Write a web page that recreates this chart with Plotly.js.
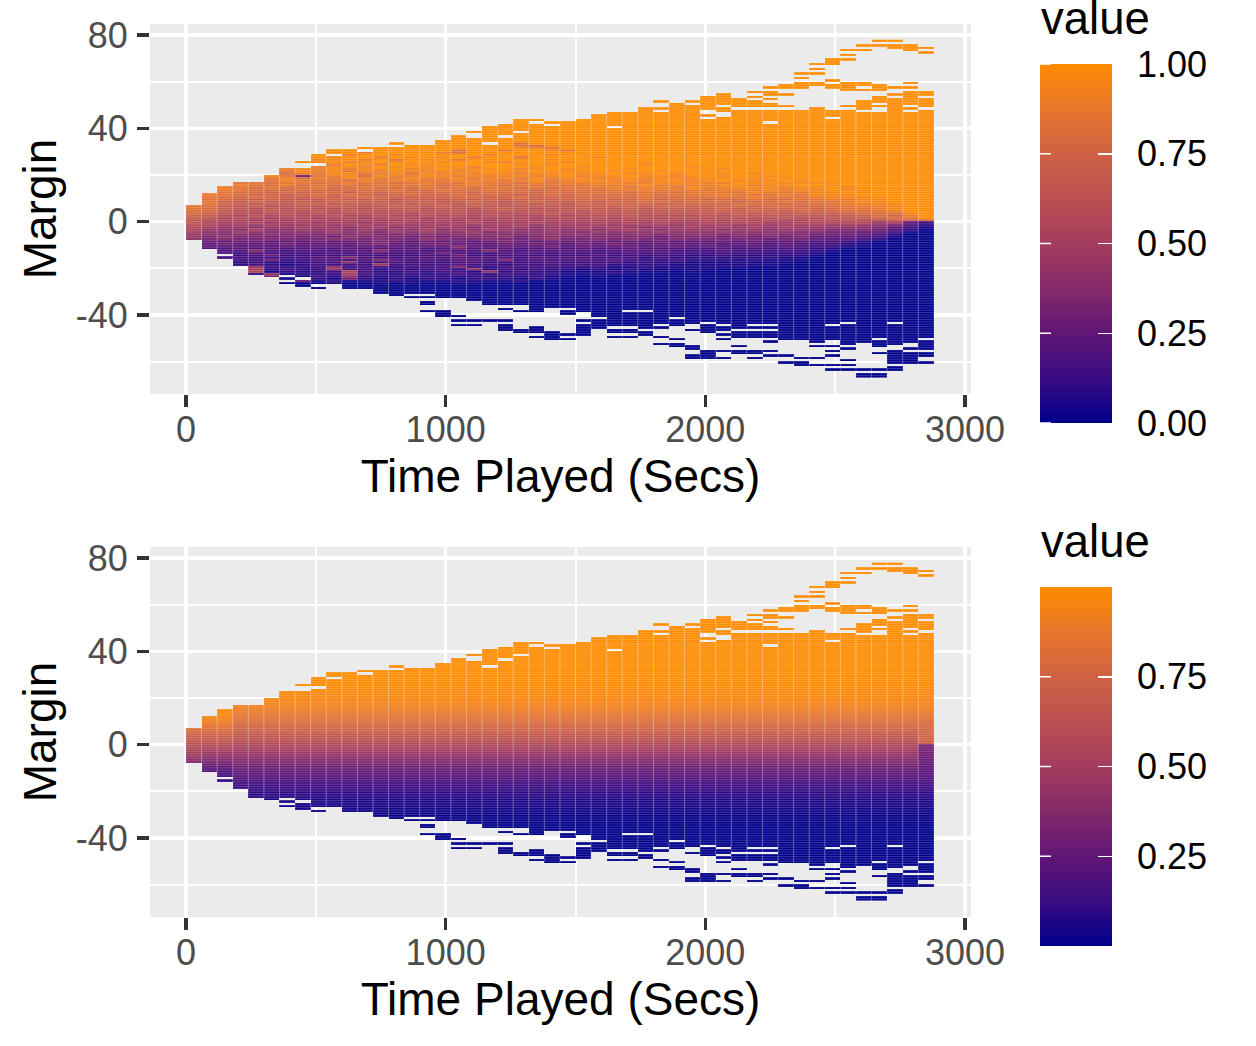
<!DOCTYPE html>
<html><head><meta charset="utf-8">
<script src="https://cdn.plot.ly/plotly-3.0.1.min.js"></script>
<style>html,body{margin:0;padding:0;background:#fff}#c{width:1256px;height:1046px}</style>
</head><body><div id="c"></div>
<script>
// column width in seconds, number of columns and rows of margin
const colStarts = Array.from({length:48},(_,i)=>i*60);
const marginLow = -67, marginHigh = 77;

// tiles present in each column, as [highest, lowest] margin rows (row k spans k..k+1)
const runs = [
[[6,-8]],[[11,-12]],[[14,-14],[-16,-16]],[[16,-19]],[[16,-23]],[[19,-24]],
[[22,-23],[-25,-25],[-27,-27]],[[25,25],[22,-24],[-26,-28]],[[28,25],[23,-27],[-29,-29]],
[[30,29],[27,-27]],[[30,-29]],[[31,31],[29,-29]],[[31,-31]],[[33,33],[31,-32]],
[[32,-31],[-33,-33]],[[32,-31],[-33,-33],[-35,-36],[-39,-39]],[[34,-33],[-39,-41]],
[[36,-33],[-41,-41],[-43,-43],[-45,-45]],[[38,38],[35,-34],[-43,-43],[-45,-45]],
[[40,34],[32,-36],[-43,-43]],[[41,37],[35,-36],[-38,-38],[-43,-43],[-45,-47]],
[[43,39],[37,-36],[-39,-39],[-47,-48]],[[43,43],[41,-39],[-46,-48],[-50,-50]],
[[42,42],[40,-37],[-48,-51]],[[42,-37],[-39,-40],[-49,-49],[-51,-51]],
[[43,-39],[-43,-43],[-45,-49]],[[45,-41],[-43,-46]],[[46,41],[39,-45],[-47,-48],[-50,-50]],
[[46,-38],[-40,-45],[-47,-48],[-50,-50]],[[48,-38],[-40,-46],[-48,-49]],
[[51,51],[48,48],[46,-44],[-46,-46],[-50,-50],[-53,-53]],[[50,-41],[-43,-45],[-51,-51],[-53,-54]],
[[51,51],[49,-44],[-47,-47],[-54,-55],[-58,-59]],[[53,48],[45,45],[43,-43],[-45,-48],[-56,-59]],
[[54,50],[48,47],[44,-44],[-46,-47],[-49,-49],[-51,-51],[-56,-56],[-59,-59]],
[[52,49],[47,-46],[-48,-50],[-54,-54],[-56,-57]],
[[55,55],[53,53],[51,49],[47,-44],[-46,-46],[-48,-50],[-56,-57],[-59,-59]],
[[57,57],[55,54],[52,52],[50,49],[47,43],[41,-44],[-46,-46],[-48,-50],[-52,-52],[-56,-56],[-58,-58]],
[[58,57],[54,54],[49,49],[47,-51],[-58,-58],[-61,-61]],
[[63,63],[61,61],[59,57],[47,-51],[-59,-59],[-61,-62]],
[[67,67],[65,65],[63,63],[59,58],[48,-52],[-54,-54],[-59,-59],[-62,-62]],
[[69,67],[60,60],[58,57],[47,45],[43,-44],[-46,-51],[-54,-54],[-56,-56],[-58,-58],[-62,-62],[-64,-64]],
[[73,73],[71,71],[69,69],[59,56],[49,49],[47,-43],[-45,-53],[-55,-55],[-60,-60],[-62,-62],[-64,-64]],
[[75,75],[73,73],[59,58],[56,56],[51,48],[46,-52],[-64,-64],[-66,-67]],
[[77,77],[75,75],[58,56],[53,51],[49,49],[46,-50],[-52,-54],[-57,-57],[-64,-64],[-66,-67]],
[[77,77],[75,74],[57,57],[54,54],[52,-43],[-45,-53],[-56,-61],[-63,-64]],
[[75,73],[59,59],[57,57],[55,50],[48,48],[46,-52],[-55,-55],[-57,-61]],
[[74,74],[72,72],[55,54],[52,49],[47,-50],[-52,-55],[-57,-58],[-61,-61]]
];

// Top panel: value read per tile, one string per margin row from rowsATop downward.
// Characters 0-9 a-k stand for 0.00, 0.05 ... 1.00. Rows above are 1.00, rows below are 0.00.
const valueChars = "0123456789abcdefghijk";
const rowsATop = 34;
const rowsA = [
"kkkkkkkk kkkkkkkk kkkkkkkk kkkkkkkk kkkkkkkk kkkkkkkk",
"kkkkkkkk kkkkkkkk kkkkkhkk kkkkkkkk kkkkkkkk kkkkkkkk",
"kkkkkkkk kkkkkkkk kkkkkhgj kkkkkkkk kkkkkkkk kkkkkkkk",
"kkkkkkkk kkkkkkkk kkkkkjih kkkkkkkk kkkkkkkk kkkkkkkk",
"kkkkkkkk kkkjkkkk khkkikkj ikkkkkkk kkkkkkkk kkkkkkkk",
"kkkkkkkk kkkikkkk ihkkkkkk kkkkkkkk kkkkkkkk kkkkkkkk",
"kkkkkkkk kkikkjkk kkkikkkj kkkkkkkk kkkkkkkk kkkkkkkk",
"kkkkkkkk kjkkikjk jkikkhkk kkjkkkkk kkkkkkkk kkkkkkkk",
"kkkkkkkk jjkikhkj khkkkkkj kkkkkkkk kkkkkkkk kkkkkkkk",
"kkkkkkkk jkijkjkk jkkjikkk jkkkkkkk kkkkkkkk kkkkkkkk",
"kkkkkkkk jikjikjj kkkkkjkj kkkkkjkk kkkkkkkk kkkkkkkk",
"kkkkkkjj ijjikjkj jjikkkjk kjkkkkkk jkkkkkkk kkkkkkkk",
"kkkkkjij ijijjkij kjjjkijk jkkkjkkk kkjkkkkk kkkkkkkk",
"kkkkjjhj ijhjijji jijkjjkj jjkjkkjk kjkkkkkk kkkkkkkk",
"kkkjjigi hjjhijhj ijijjijj kjjkjjkj kkjkjkkk kkkkkkkk",
"kkkjijh6 hijgjiij jhjiijij jijjkjji jkjkkjkk kkkkkkkk",
"kkkjihig ihjiihji ijhijhji jjijjijj jjjkjkjk kkkkkkkk",
"kkjiihih hhgihiih hiiihijh ijjijijj ijkjjjkj kkkkkkkk",
"kkjhhghh ghihhghi hhihhgih iiijiijj jiikjkjj jkkkkkkk",
"kkjihgig hghghhhh ghihghhh hhiiijii iijjijjk kjkkkkkk",
"kjihghgg hgghgggh ghghhghg hhhihiih jiijjjij jkjkkkkk",
"kjihggfg gfggghfg hgghggfg ghghiihi ihiiijij jkjkkkkk",
"kihggfgf fgegfggf ggfgggfg gghhghhg hihhjihi jjkjkkkk",
"jihgffef gfgfefgf fgfgfefg fgggghgh hhihhhih jjjkkkkk",
"jhgfgfee fefgffef ffgefgff fgfgghgg ghhhihhh ijjjkkkk",
"jhgfefed efeefdfe efefefee ffgffgfg gfgghggh hiijjkkk",
"ihfefede defeedee defedefe efeffggf gggfgghg hhijjkkk",
"ihfedede ededeede edeedede dfefffef fffgggfg ghiijjkk",
"hgedecdd dedddeed ededdded deeefeff effgfggf gghiijkk",
"hgedcdcd ccdcdddc ddcdedcd deddedee eefefffg fghhijkk",
"gfdccdcc dcdcccdc cdccdcdc dcdddddd deeefeef ffgghikk",
"gfdcbccb cbccbcbc ccbcbccd ccdcdcdd dddedede eefgghjk",
"fecbcbcb bcbbcbbc bcbccbbc bcccdccc cdcddddd ddefgfik",
"edbcbabb abbabcba bbabbbab cbcbccbc ccccccdc cddefghk",
"dcbbabab babbaaba bababbab bbbbbbcb bcbcbcbb ccccdefg",
"dbaab9aa 9aa9abaa aabaaaba aabababa abbbbaab bbbb9a53",
"cbaa9a99 a9aa9a9a 9a9aaa9a a9a9aaa9 aaa9a9aa a9a98742",
"ba99899a 9989a899 a9899a89 9a9a9899 a9a9a9a9 99887531",
"b988a889 8989898a 898a9889 8989a989 99899899 87776420",
"a8898788 89887989 88978889 87988898 88988887 76655310",
"98787877 78787778 78887788 88778878 88787877 66654200",
"97877676 76877767 67778678 77777767 77676767 55543100",
"86766766 67767668 76676678 66767667 66666566 54432000",
"86566555 65667656 56567656 66656565 55656555 44321000",
"75655565 55567556 65556565 56565555 55455454 33210000",
"65545454 55455545 57545556 45555455 45444444 32110000",
"64454544 44544454 47445445 45445444 44434343 22100000",
"54447434 43447443 44474344 44344443 33433333 21000000",
"53434333 34344334 64334443 43334343 33333222 10000000",
"53334633 33433334 36334333 33433333 22322222 10000000",
"43333333 44744344 45444344 44333232 22222211 00000000",
"32233623 44347434 34437343 34343223 22212111 00000000",
"32223222 34933433 34433334 33332322 11121110 00000000",
"22123212 33339333 34332333 33322221 11111100 00000000",
"22229322 38333233 37323333 22211211 11110000 00000000",
"2211a232 29332323 32923232 21212111 11000000 00000000",
"2121b122 23b32232 33282322 11121110 10000000 00000000",
"11212912 22a32222 23223222 11111000 00000000 00000000",
"11111711 32922222 22222221 10100000 00000000 00000000",
"01110011 21621212 21222121 00000000 00000000 00000000",
"00000005 12111211 12111200 00000000 00000000 00000000",
"00000000 01001010 01100000 00000000 00000000 00000000"
];

// Bottom panel: percent by margin row, read from the smooth gradient.
const probBTop = 34;
const probB = [100,100,100,100,100,100,100,100,99,99,99,98,98,97,97,96,95,94,93,91,90,88,86,84,82,80,78,76,74,72,69,67,64,61,58,55,52,49,46,43,40,38,35,33,30,28,26,24,22,20,18,16,14,13,11,10,9,8,7,6,5,4,4,3,3,2,2,1,1,0];
const probFirstColTop = 6;
const probFirstCol = [82,79,76,73,70,67,63,60,57,54,51,48,44,40,36];
const probEarlyColsTop = 14;
const probEarlyCols = [98,97,96,94,92,90,87,84,81,78,75,72,69,65,62,58,55,51,47,44,40,37,33,30,26,22,19,17,14,12,10];
const probLastColTop = 7;
const probLastCol = [79,78,77,76,75,74,73,72,33,32,31,30,29,28,27,26,25,24,23,22,21,20,20];

const xTicks = [0,1000,2000,3000], xMinor = [500,1500,2500];
const yTicks = [80,40,0,-40], yTickText = ["80","40","0","-40"], yMinor = [60,20,-20,-60];
const barTicksA = [0,0.25,0.5,0.75,1], barTicksB = [0.25,0.5,0.75];
const xTitle = "Time Played (Secs)", yTitle = "Margin", barTitle = "value";

const rows = []; for (let k = marginLow; k <= marginHigh; k++) rows.push(k);
const has = (c,k) => runs[c].some(r => k <= r[0] && k >= r[1]);
const gridA = rowsA.map(s => s.replace(/ /g,''));
function valueA(c,k){
  if (k > rowsATop) return 1;
  const i = rowsATop - k;
  if (i >= gridA.length) return 0;
  return valueChars.indexOf(gridA[i][c]) / 20;
}
function valueB(c,k){
  const look = (top,arr) => { const i = top-k; return (i>=0 && i<arr.length) ? arr[i] : null; };
  let v = null;
  if (c===0) v = look(probFirstColTop,probFirstCol);
  else if (c<=2) v = look(probEarlyColsTop,probEarlyCols);
  else if (c===47) v = look(probLastColTop,probLastCol);
  if (v===null) { if (k>probBTop) return 1; v = look(probBTop,probB); if (v===null) return 0; }
  return v/100;
}
const build = f => rows.map(k => colStarts.map((_,c) => has(c,k) ? f(c,k) : null));
const colW = 60;
const xCenters = colStarts.map(s => s + colW/2);
const yCenters = rows.map(k => k + 0.5);

// faint seams between tiles
const sx = [], sy = [];
runs.forEach((rs,c) => rs.forEach(r => {
  for (const e of [colStarts[c], colStarts[c]+colW]) { sx.push(e,e,null); sy.push(r[1],r[0]+1,null); }
}));
const hx = [], hy = [];
runs.forEach((rs,c) => rs.forEach(r => {
  for (let k=r[1]; k<=r[0]+1; k++) { hx.push(colStarts[c],colStarts[c]+colW,null); hy.push(k,k,null); }
}));

const W = 1256, H = 1046;
const colors = [[0,'#00008B'],[0.125,'rgb(58,12,130)'],[0.25,'rgb(97,22,118)'],[0.375,'rgb(132,42,106)'],[0.5,'rgb(164,60,94)'],[0.625,'rgb(187,80,82)'],[0.75,'rgb(207,98,68)'],[0.875,'rgb(232,118,44)'],[1,'#FF8C00']];
const barFont = {family:'Liberation Sans',size:36,color:'#000'};
function bar(top,ticks){
  return {x:1040/W,xanchor:'left',xpad:0,y:1-top/H,yanchor:'top',ypad:0,thickness:72,thicknessmode:'pixels',len:359,lenmode:'pixels',
    outlinewidth:0,borderwidth:0,ticks:'inside',ticklen:14,tickwidth:1.5,tickcolor:'#fff',tickvals:ticks,ticktext:ticks.map(t=>'\u00a0\u2009'+t.toFixed(2)),tickfont:barFont};
}
function heat(z,xa,ya,top,ticks){
  return {type:'heatmap',x:xCenters,y:yCenters,z:z,xaxis:xa,yaxis:ya,zmin:0,zmax:1,colorscale:colors,hoverongaps:false,colorbar:bar(top,ticks)};
}
function seams(xa,ya){
  return [
    {type:'scatter',mode:'lines',x:hx,y:hy,xaxis:xa,yaxis:ya,line:{color:'rgba(255,255,255,0.42)',width:0.5},hoverinfo:'skip',showlegend:false,connectgaps:false},
    {type:'scatter',mode:'lines',x:sx,y:sy,xaxis:xa,yaxis:ya,line:{color:'rgba(255,255,255,0.18)',width:1},hoverinfo:'skip',showlegend:false,connectgaps:false}
  ];
}
const data = [heat(build(valueA),'x','y',64,barTicksA),...seams('x','y'),heat(build(valueB),'x2','y2',587,barTicksB),...seams('x2','y2')];

const tickFont = {family:'Liberation Sans',size:36,color:'#4D4D4D'};
const titleFont = {family:'Liberation Sans',size:46,color:'#000'};
function xAxis(anchor){
  return {domain:[150/W,971/W],range:[-138.6,3023],anchor:anchor,tickmode:'array',tickvals:xTicks,ticktext:xTicks.map(String),tickfont:tickFont,ticklabelstandoff:-8,
    ticks:'outside',ticklen:12,tickwidth:3.5,tickcolor:'#333',showgrid:true,gridcolor:'#fff',gridwidth:3.5,zeroline:false,showline:false,
    minor:{tickvals:xMinor,showgrid:true,gridcolor:'#fff',gridwidth:2,ticks:''},
    title:{text:xTitle,font:titleFont,standoff:8}};
}
function yAxis(anchor,t,b){
  return {domain:[1-b/H,1-t/H],range:[-73.9,84.7],anchor:anchor,tickmode:'array',tickvals:yTicks,ticktext:yTickText,tickfont:tickFont,ticklabelstandoff:2,
    ticks:'outside',ticklen:12,tickwidth:3.5,tickcolor:'#333',showgrid:true,gridcolor:'#fff',gridwidth:3.5,zeroline:false,showline:false,
    minor:{tickvals:yMinor,showgrid:true,gridcolor:'#fff',gridwidth:2,ticks:''},
    title:{text:yTitle,font:titleFont,standoff:4}};
}
// left-hand ticks of each colour bar and the legend titles
const anns = [];
function leftTicks(top,ticks){
  ticks.forEach(t => anns.push({xref:'paper',yref:'paper',x:1040/W,y:1-(top+359*(1-t))/H,text:' ',showarrow:true,arrowhead:0,arrowwidth:1.5,arrowcolor:'#fff',axref:'pixel',ayref:'pixel',ax:14,ay:0,standoff:0,startstandoff:0}));
}
leftTicks(64,barTicksA); leftTicks(587,barTicksB);
[19,541].forEach(y => anns.push({xref:'paper',yref:'paper',x:1039/W,y:1-y/H,xanchor:'left',yanchor:'middle',text:barTitle,showarrow:false,font:{family:'Liberation Sans',size:45.5,color:'#000'}}));

Plotly.newPlot('c',data,{
  width:W,height:H,margin:{l:0,r:0,t:0,b:0,pad:0},paper_bgcolor:'#fff',plot_bgcolor:'#EBEBEB',showlegend:false,
  font:{family:'Liberation Sans'},
  xaxis:xAxis('y'),yaxis:yAxis('x',24,394),xaxis2:xAxis('y2'),yaxis2:yAxis('x2',547,917),
  annotations:anns
},{displayModeBar:false,staticPlot:true});
</script></body></html>
